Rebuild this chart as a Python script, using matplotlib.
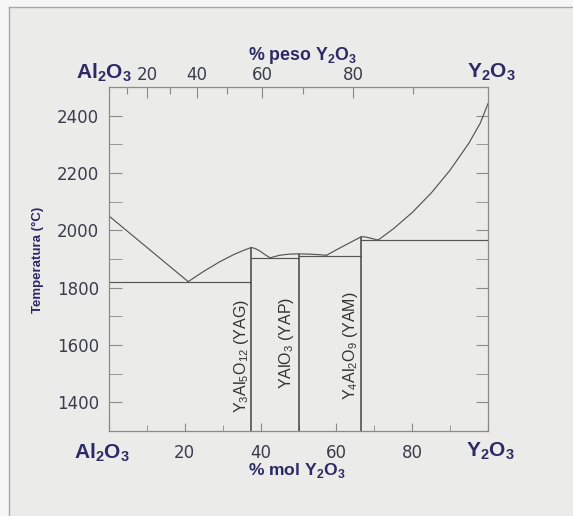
import matplotlib
matplotlib.use('Agg')
from matplotlib import pyplot as plt
from matplotlib.patches import Rectangle
from matplotlib.lines import Line2D
import numpy as np

plt.rcParams['mathtext.fontset'] = 'custom'
plt.rcParams['mathtext.rm'] = 'Liberation Sans'
plt.rcParams['mathtext.bf'] = 'Liberation Sans:bold'

# liquidus segments (mol % Y2O3, temperature C)
liq_al2o3_x = [0, 20.9]
liq_al2o3_t = [2050, 1821]
liq_yag_left_x = [20.9, 25, 29.3, 33, 35.5, 37.5]
liq_yag_left_t = [1821, 1857, 1891, 1916, 1930, 1940]
liq_yag_right_x = [37.5, 38.5, 39.8, 41.2, 42.5]
liq_yag_right_t = [1940, 1937, 1928, 1915, 1904]
liq_yap_x = [42.5, 45, 47.5, 50, 53, 55.5, 57.4]
liq_yap_t = [1904, 1913, 1917, 1918, 1917, 1915, 1913]
liq_yam_left_x = [57.4, 60, 63, 66.6]
liq_yam_left_t = [1913, 1932, 1953, 1978]
liq_yam_right_x = [66.6, 68, 69.5, 71]
liq_yam_right_t = [1978, 1976, 1971, 1966]
liq_y2o3_x = [71, 75, 80, 85, 90, 95, 98, 100]
liq_y2o3_t = [1966, 2005, 2062, 2130, 2210, 2305, 2375, 2442]

# eutectic lines
eut_x0 = [0, 37.5, 50, 66.6]
eut_x1 = [37.5, 50, 66.6, 100]
eut_t = [1821, 1904, 1911, 1966]

# compounds
comp_x = [37.5, 50, 66.6]
comp_top = [1940, 1918, 1978]
comp_names = [r'Y$_3$Al$_5$O$_{12}$ (YAG)', r'YAlO$_3$ (YAP)', r'Y$_4$Al$_2$O$_9$ (YAM)']
comp_label_x = [35.0, 46.9, 63.6]
comp_label_t = [1562, 1609, 1597]

mol_ticks = [0, 20, 40, 60, 80, 100]
mol_labels = ['', '20', '40', '60', '80', '']
wt_ticks = [10, 20, 30, 40, 50, 60, 70, 80, 90]
wt_labels = ['', '20', '', '40', '', '60', '', '80', '']
temp_ticks = [1400, 1600, 1800, 2000, 2200, 2400]

M_Y2O3 = 225.81
M_AL2O3 = 101.96


def wt_to_mol(w):
    w = np.asarray(w, dtype=float)
    ny = w / M_Y2O3
    na = (100 - w) / M_AL2O3
    return 100 * ny / (ny + na)


navy = '#2c2a66'
tickc = '#3c3c4c'
linec = '#555555'
bg = '#ebebea'
W, H = 573, 516

fig = plt.figure(figsize=(5.73, 5.16), dpi=100, facecolor=bg)
# white margin at top/left with grey border
fig.patches.append(Rectangle((0, 0), 9 / W, 1, transform=fig.transFigure, color='#f6f6f6', zorder=-5))
fig.patches.append(Rectangle((0, 1 - 7 / H), 1, 7 / H, transform=fig.transFigure, color='#f6f6f6', zorder=-5))
fig.lines.append(Line2D([9 / W, 9 / W], [0, 1 - 7 / H], transform=fig.transFigure, color='#a8a8a8', lw=1))
fig.lines.append(Line2D([9 / W, 1], [1 - 7 / H, 1 - 7 / H], transform=fig.transFigure, color='#a8a8a8', lw=1))

ax = fig.add_axes([109 / W, 1 - 431 / H, 379 / W, 344 / H])
ax.set_facecolor('none')
ax.set_xlim(0, 100)
ax.set_ylim(1300, 2500)

segs = [(liq_al2o3_x, liq_al2o3_t), (liq_yag_left_x, liq_yag_left_t),
        (liq_yag_right_x, liq_yag_right_t), (liq_yap_x, liq_yap_t),
        (liq_yam_left_x, liq_yam_left_t), (liq_yam_right_x, liq_yam_right_t),
        (liq_y2o3_x, liq_y2o3_t)]
for xs, ts in segs:
    ax.plot(xs, ts, color=linec, lw=0.85)

ax.hlines(eut_t, eut_x0, eut_x1, color=linec, lw=0.85)
ax.vlines(comp_x, 1300, comp_top, color='#444444', lw=1.1)

for name, lx, lt in zip(comp_names, comp_label_x, comp_label_t):
    ax.text(lx, lt, name, rotation=90, ha='center', va='center',
            family='Liberation Sans', fontsize=11.5, color='#333333')

for s in ax.spines.values():
    s.set_color('#8a8a8a')
    s.set_linewidth(0.9)

ax.set_xticks(mol_ticks)
ax.set_xticklabels(mol_labels)
ax.set_xticks([10, 30, 50, 70, 90], minor=True)
ax.set_yticks(temp_ticks)
ax.set_yticks([1300, 1500, 1700, 1900, 2100, 2300, 2500], minor=True)
ax.tick_params(axis='x', which='major', direction='in', length=6, color='#8a8a8a',
               pad=9, labelsize=12, labelcolor=tickc)
ax.tick_params(axis='x', which='minor', direction='in', length=4, color='#8a8a8a')
ax.tick_params(axis='y', which='both', direction='in', length=9, color='#8a8a8a',
               right=True, pad=7, labelsize=12, labelcolor=tickc)

ax2 = ax.twiny()
ax2.set_xlim(0, 100)
ax2.set_xticks(wt_to_mol(wt_ticks))
ax2.set_xticklabels(wt_labels)
ax2.tick_params(axis='x', direction='in', length=5, color='#8a8a8a', pad=2,
                labelsize=12, labelcolor=tickc)
for t, lab in zip(ax2.xaxis.get_major_ticks(), wt_labels):
    if lab:
        t.tick2line.set_markersize(8)
for s in ax2.spines.values():
    s.set_visible(False)


def ftext(px, py, s, **kw):
    fig.text(px / W, 1 - py / H, s, ha='center', va='center', **kw)


bold = dict(family='Liberation Sans', weight='bold', color=navy)
ftext(104, 73, r'Al$_\mathbf{2}$O$_\mathbf{3}$', fontsize=15, **bold)
ftext(491, 72, r'Y$_\mathbf{2}$O$_\mathbf{3}$', fontsize=15, **bold)
ftext(102, 453, r'Al$_\mathbf{2}$O$_\mathbf{3}$', fontsize=15, **bold)
ftext(490, 451, r'Y$_\mathbf{2}$O$_\mathbf{3}$', fontsize=15, **bold)
ftext(302, 55, r'% peso Y$_\mathbf{2}$O$_\mathbf{3}$', fontsize=12.8, **bold)
ftext(297, 471, r'% mol Y$_\mathbf{2}$O$_\mathbf{3}$', fontsize=12.6, **bold)
ftext(38, 260, 'Temperatura (°C)', fontsize=9.5, rotation=90, **bold)

fig.savefig('out.png', dpi=100, facecolor=bg)
